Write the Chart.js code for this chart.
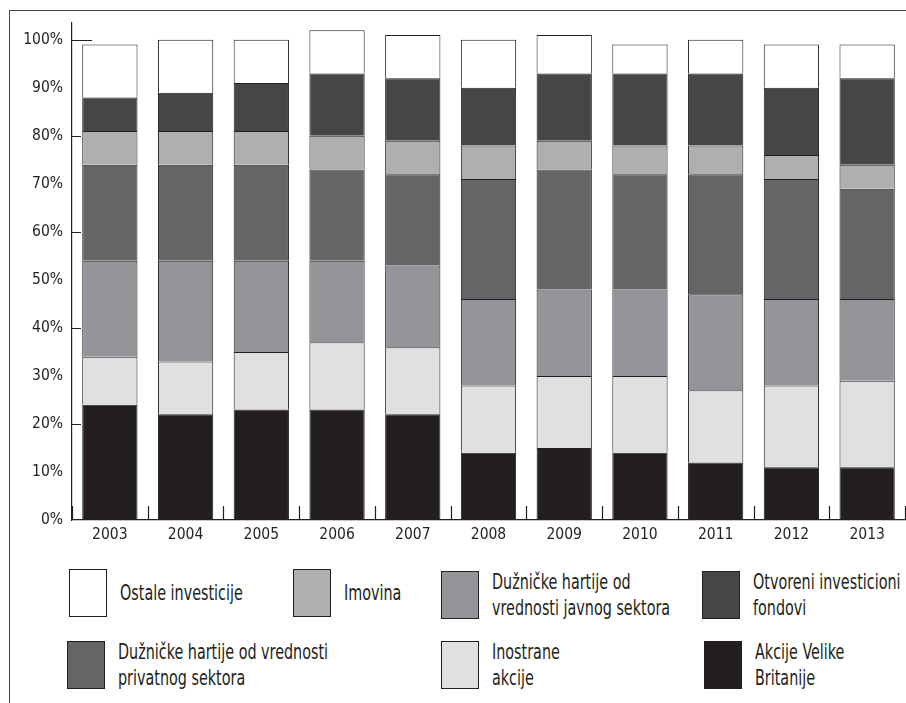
<!DOCTYPE html>
<html>
<head>
<meta charset="utf-8">
<script src="https://cdn.jsdelivr.net/npm/chart.js"></script>
<style>
  html, body { margin: 0; padding: 0; background: #fff; }
  body { width: 906px; height: 703px; position: relative; overflow: hidden;
         font-family: "Liberation Sans Narrow", "DejaVu Sans Condensed", sans-serif; color: #231f20; }
  #frame { position: absolute; left: 9px; top: 10px; right: -2px; bottom: -2px;
           border-top: 1.5px solid #444; border-left: 1.5px solid #444; }
  #chart { position: absolute; left: 0; top: 0; }
  .item { position: absolute; display: flex; align-items: center; }
  .box { width: 36px; height: 46px; border: 1.5px solid #231f20; flex: none; }
  .txt { margin-left: 13px; font-size: 21px; line-height: 26px; white-space: nowrap;
         transform: scaleX(0.76); transform-origin: left center; }
</style>
</head>
<body>
<div id="frame"></div>
<canvas id="chart" width="906" height="550"></canvas>
<div id="legend"></div>
<script>
  const years = ["2003", "2004", "2005", "2006", "2007", "2008", "2009", "2010", "2011", "2012", "2013"];

  // udeli po godinama (%), odozdo nagore
  const akcijeVB = [24, 22, 23, 23, 22, 14, 15, 14, 12, 11, 11];
  const inostraneAkcije = [10, 11, 12, 14, 14, 14, 15, 16, 15, 17, 18];
  const javniSektor = [20, 21, 19, 17, 17, 18, 18, 18, 20, 18, 17];
  const privatniSektor = [20, 20, 20, 19, 19, 25, 25, 24, 25, 25, 23];
  const imovina = [7, 7, 7, 7, 7, 7, 6, 6, 6, 5, 5];
  const otvoreniFondovi = [7, 8, 10, 13, 13, 12, 14, 15, 15, 14, 18];
  const ostaleInvesticije = [11, 11, 9, 9, 9, 10, 8, 6, 7, 9, 7];

  const yTicks = [0, 10, 20, 30, 40, 50, 60, 70, 80, 90, 100];

  const series = [
    { label: "Akcije Velike\nBritanije", data: akcijeVB, color: "#231f20" },
    { label: "Inostrane\nakcije", data: inostraneAkcije, color: "#dfe0e2" },
    { label: "Dužničke hartije od\nvrednosti javnog sektora", data: javniSektor, color: "#949599" },
    { label: "Dužničke hartije od vrednosti\nprivatnog sektora", data: privatniSektor, color: "#646567" },
    { label: "Imovina", data: imovina, color: "#aeafb1" },
    { label: "Otvoreni investicioni\nfondovi", data: otvoreniFondovi, color: "#464648" },
    { label: "Ostale investicije", data: ostaleInvesticije, color: "#ffffff" },
  ];

  const fontFamily = '"Liberation Sans Narrow", "DejaVu Sans Condensed", sans-serif';

  // crtice na osama (unutra)
  const axisMarks = {
    id: "axisMarks",
    afterDraw(chart) {
      const ctx = chart.ctx;
      const x = chart.scales.x;
      const y = chart.scales.y;
      ctx.save();
      ctx.strokeStyle = "#231f20";
      ctx.lineWidth = 1.2;
      ctx.beginPath();
      [20, 40, 60, 80, 100].forEach((v) => {
        const py = Math.round(y.getPixelForValue(v)) + 0.5;
        ctx.moveTo(x.left, py);
        ctx.lineTo(x.left + (v === 100 ? 20 : 9), py);
      });
      for (let i = 0; i <= years.length; i++) {
        const px = Math.round(x.getPixelForValue(i - 0.5)) + 0.5;
        ctx.moveTo(px, y.bottom);
        ctx.lineTo(px, y.bottom - 14);
      }
      ctx.stroke();
      ctx.restore();
    },
  };

  new Chart(document.getElementById("chart"), {
    type: "bar",
    data: {
      labels: years,
      datasets: series.map((s) => ({
        label: s.label,
        data: s.data,
        backgroundColor: s.color,
        borderColor: "#231f20",
        borderWidth: 1,
        barPercentage: 0.73,
        categoryPercentage: 1,
      })),
    },
    options: {
      responsive: false,
      animation: false,
      devicePixelRatio: 1,
      layout: { padding: { top: 23, right: 1, left: 0, bottom: 0 } },
      plugins: { legend: { display: false }, tooltip: { enabled: false } },
      scales: {
        x: {
          stacked: true,
          afterFit: (scale) => { scale.height = 30; },
          grid: { display: false, drawTicks: false },
          border: { display: true, color: "#231f20", width: 1.2 },
          ticks: { color: "#231f20", padding: 6, font: { family: fontFamily, size: 15.5 } },
        },
        y: {
          stacked: true,
          min: 0,
          max: 103.5,
          afterFit: (scale) => { scale.width = 72; },
          afterBuildTicks: (scale) => { scale.ticks = yTicks.map((v) => ({ value: v })); },
          grid: { display: false, drawTicks: false },
          border: { display: true, color: "#231f20", width: 1.2 },
          ticks: {
            color: "#231f20",
            padding: 9,
            font: { family: fontFamily, size: 15.5 },
            callback: (v) => v + "%",
          },
        },
      },
    },
    plugins: [axisMarks],
  });

  // legenda (redosled kao na slici)
  const legendOrder = [6, 4, 2, 5, 3, 1, 0];
  const legendPos = [[69, 569], [293, 569], [441, 569], [702, 569], [67, 639], [441, 639], [704, 639]];
  const legend = document.getElementById("legend");
  legendOrder.forEach((idx, i) => {
    const s = series[idx];
    const item = document.createElement("div");
    item.className = "item";
    item.style.left = legendPos[i][0] + "px";
    item.style.top = legendPos[i][1] + "px";
    const box = document.createElement("div");
    box.className = "box";
    box.style.background = s.color;
    const txt = document.createElement("div");
    txt.className = "txt";
    txt.innerHTML = s.label.replace("\n", "<br>");
    item.appendChild(box);
    item.appendChild(txt);
    legend.appendChild(item);
  });
</script>
</body>
</html>
